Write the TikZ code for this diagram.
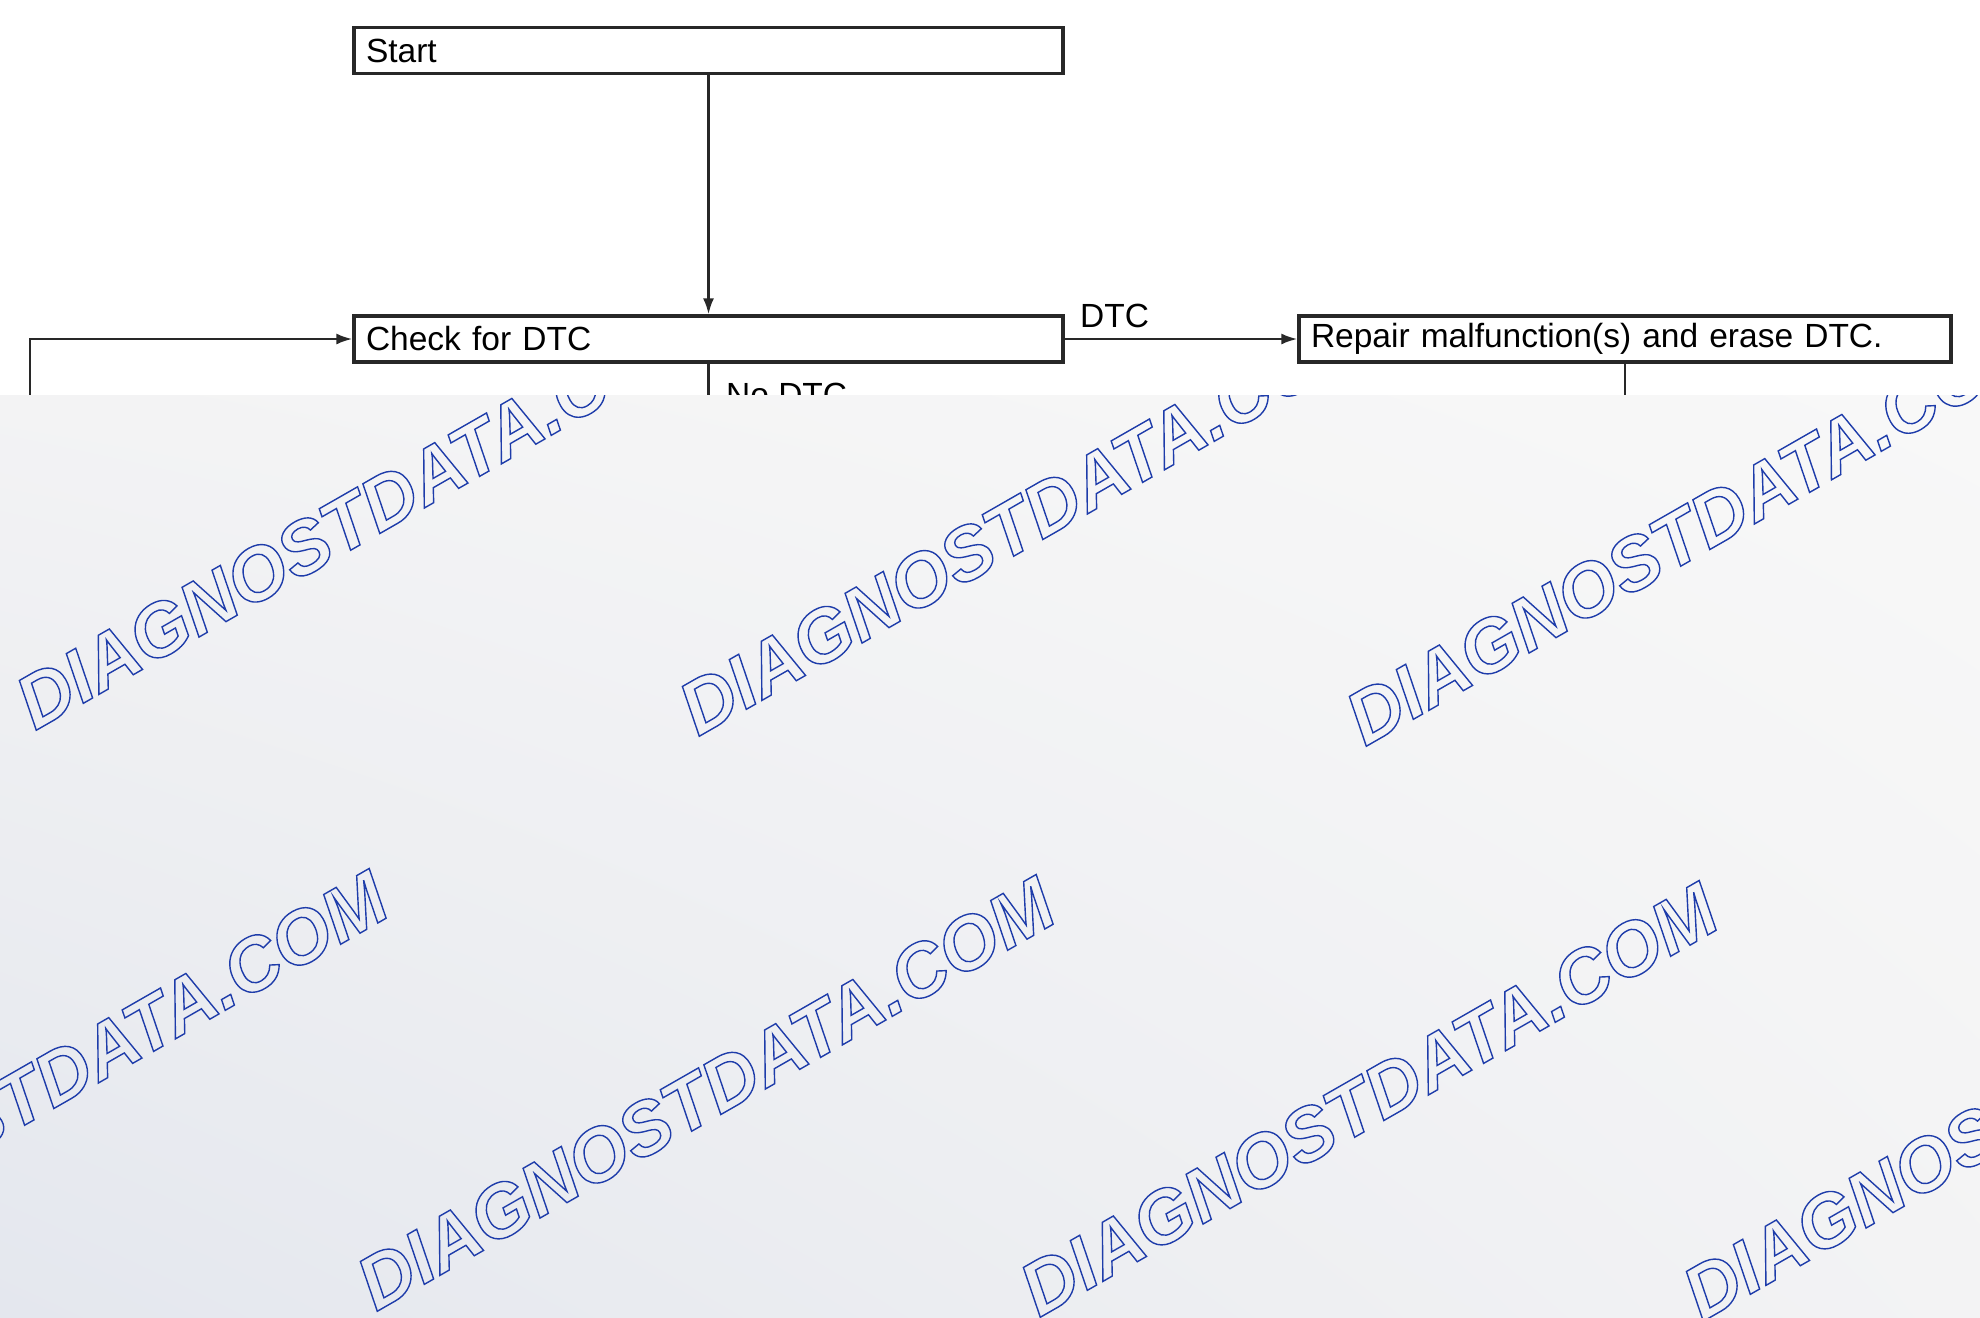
\documentclass[tikz,border=0pt]{standalone}
\usepackage{fontspec}
\setmainfont{Liberation Sans}
\newfontfamily\wmfont{Liberation Sans}
\usetikzlibrary{arrows.meta,shadings}

\definecolor{inkgray}{RGB}{40,40,40}
\definecolor{ovgray}{RGB}{243,243,244}
\definecolor{ovlight}{RGB}{248,248,248}
\definecolor{ovblue}{RGB}{228,231,238}
\definecolor{wmblue}{RGB}{30,60,170}

\tikzset{
  stepbox/.style={draw=inkgray,line width=3.2pt,rectangle,minimum height=46pt,
    inner xsep=12pt,inner ysep=0pt,align=left,text=black,
    font=\fontsize{33.5}{40}\selectfont},
  lbl/.style={inner sep=0pt,text=black,font=\fontsize{33.5}{40}\selectfont},
  flow/.style={draw=inkgray,line width=2.5pt},
  arrow/.style={flow,-{Latex[length=16pt,width=11pt]}},
  wmark/.style={inner sep=0pt,anchor=base west,rotate=29.8,text=wmblue,
    font=\wmfont\bfseries\itshape\fontsize{75}{80}\selectfont,
    execute at begin node={\special{pdf:literal direct 1 Tr 1.4 w}},
    execute at end node={\special{pdf:literal direct 0 Tr}}}
}

\begin{document}
\begin{tikzpicture}[x=1pt,y=-1pt]

  \useasboundingbox (0,0) rectangle (1980,1317);

  % flowchart boxes
  \node[stepbox,text width=685pt] (start)  at (708.5,50.5) {Start};
  \node[stepbox,text width=685pt] (check)  at (708.5,339)  {Check for DTC};
  \node[stepbox,text width=628pt] (repair) at (1625,339)   {Repair malfunction(s) and erase DTC.};

  % labels
  \node[lbl,anchor=south west] (dtc)   at (1080,328) {DTC};
  \node[lbl,anchor=north west] (nodtc) at (726,383)  {No DTC};

  % free ends, hidden under the overlay
  \coordinate (loop)    at (30,430);
  \coordinate (checkdn) at (708.5,430);
  \coordinate (repdn)   at (1625,430);

  % connectors
  \draw[arrow] (start) -- (check);
  \draw[arrow] (check) -- (repair);
  \draw[arrow] (loop) |- (check);
  \draw[flow] (check) -- (checkdn);
  \draw[flow] (repair) -- (repdn);

  % overlay with watermark
  \shade[upper left=ovgray,upper right=ovlight,lower left=ovblue,lower right=ovgray]
    (0,395) rectangle (1980,1317);
  \begin{scope}
    \clip (0,395) rectangle (1980,1317);
    \node[wmark] (wma) at (35,731)    {DIAGNOSTDATA.COM};
    \node[wmark] (wmb) at (698,737)   {DIAGNOSTDATA.COM};
    \node[wmark] (wmc) at (1365,747)  {DIAGNOSTDATA.COM};
    \node[wmark] (wmd) at (-291,1306) {DIAGNOSTDATA.COM};
    \node[wmark] (wme) at (376,1312)  {DIAGNOSTDATA.COM};
    \node[wmark] (wmf) at (1039,1318) {DIAGNOSTDATA.COM};
    \node[wmark] (wmg) at (1702,1322) {DIAGNOSTDATA.COM};
  \end{scope}

\end{tikzpicture}
\end{document}
